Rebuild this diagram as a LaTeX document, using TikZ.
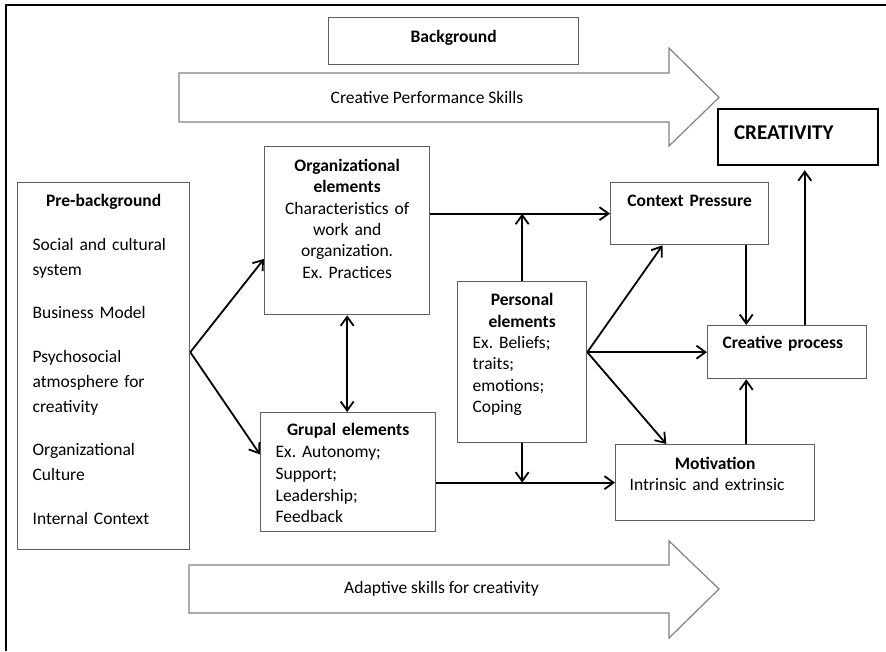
\documentclass[tikz,border=0pt]{standalone}
\usepackage{fontspec}
\setmainfont{Carlito}
\frenchspacing
\usetikzlibrary{arrows.meta, positioning, calc}
\definecolor{BoxGray}{RGB}{95, 95, 95}
\definecolor{ArrowGray}{RGB}{130, 130, 130}

\begin{document}
\begin{tikzpicture}[
    x=1pt, y=-1pt,
    font=\fontsize{17.5}{21.3}\selectfont,
    box/.style={rectangle, draw=BoxGray, line width=1.3pt, anchor=north west, inner ysep=0pt, inner xsep=15pt, align=left},
    headbox/.style={box, draw=black, line width=2.2pt},
    skillarrow/.style={draw=ArrowGray, line width=1.2pt, fill=white},
    frameline/.style={draw=black, line width=2.6pt},
    arrow/.style={-{Straight Barb[length=9pt, width=13pt]}, draw=black, line width=1.8pt},
    twoway/.style={arrow, {Straight Barb[length=9pt, width=13pt]}-{Straight Barb[length=9pt, width=13pt]}}
  ]
    \useasboundingbox (0,0) rectangle (886,651);
    \draw[frameline] (6,651) -- (6,5) -- (886,5);

    % Top band: background and skills arrow
    \node[box, align=center, inner xsep=0pt, text width=250pt, text height=25pt, text depth=22pt] (bg) at (328,17) {\textbf{Background}};
    \draw[skillarrow] (179,73) -- (669,73) -- (669,48) -- (719,97.5) -- (669,146) -- (669,122) -- (179,122) -- cycle;
    \node (perf) at (427,97.5) {Creative Performance Skills};

    % Outcome
    \node[headbox, inner xsep=16pt, text width=128pt, text height=30.5pt, text depth=25.5pt, font=\fontsize{21}{25}\selectfont\bfseries] (creat) at (717,108) {CREATIVITY};

    % Pre-background column
    \node[box, text width=142pt, text height=24pt, text depth=343pt, font=\fontsize{17.5}{25}\selectfont] (pre) at (17,182) {
      \makebox[\linewidth]{\textbf{Pre-background}}\\[19pt]
      Social and cultural\\ system\\[18pt]
      Business Model\\[19pt]
      Psychosocial\\ atmosphere for\\ creativity\\[18pt]
      Organizational\\ Culture\\[19pt]
      Internal Context
    };

    % Elements
    \node[box, align=center, inner xsep=8pt, text width=149pt, text height=25pt, text depth=143pt] (org) at (264,146) {
      \textbf{Organizational}\\ \textbf{elements}\\ Characteristics of\\ work and\\ organization.\\ Ex. Practices
    };
    \node[box, text width=145pt, text height=23pt, text depth=96pt, font=\fontsize{17.5}{21.8}\selectfont] (grup) at (260,412) {
      \makebox[\linewidth]{\textbf{Grupal elements}}\\ Ex. Autonomy;\\ Support;\\ Leadership;\\ Feedback
    };
    \node[box, text width=99pt, text height=24pt, text depth=137pt, font=\fontsize{17.5}{21.4}\selectfont] (pers) at (457,281) {
      \makebox[\linewidth]{\textbf{Personal}}\\ \makebox[\linewidth]{\textbf{elements}}\\ Ex. Beliefs;\\ traits;\\ emotions;\\ Coping
    };

    % Right column
    \node[box, align=center, inner xsep=0pt, text width=158pt, text height=24pt, text depth=38pt] (ctx) at (610,182) {\textbf{Context Pressure}};
    \node[box, text width=129pt, text height=23pt, text depth=30pt] (proc) at (707,325) {\textbf{Creative process}};
    \node[box, inner xsep=14pt, text width=171pt, text height=25pt, text depth=51pt] (mot) at (615,444) {
      \makebox[\linewidth]{\textbf{Motivation}}\\ Intrinsic and extrinsic
    };

    % Bottom skills arrow
    \draw[skillarrow] (189,565) -- (669,565) -- (669,541) -- (719,589) -- (669,638) -- (669,613) -- (189,613) -- cycle;
    \node (adapt) at (441.5,589) {Adaptive skills for creativity};

    % Connections
    \coordinate (prefan) at (pre.east |- proc.west);
    \draw[arrow] (prefan) -- ($(org.north west)!0.667!(org.south west)$);
    \draw[arrow] (prefan) -- ($(grup.north west)!0.353!(grup.south west)$);
    \draw[twoway] (org.south) -- (org.south |- grup.north);

    \draw[arrow] (ctx.west -| org.east) -- (ctx.west);
    \draw[arrow] (pers.north) -- (pers.north |- ctx.west);
    \draw[arrow] (pers.south) -- (pers.south |- mot.west);
    \draw[arrow] (mot.west -| grup.east) -- (mot.west);

    \coordinate (persfan) at (pers.east |- proc.west);
    \draw[arrow] (persfan) -- ($(ctx.south west)!0.33!(ctx.south east)$);
    \draw[arrow] (persfan) -- (proc.west);
    \draw[arrow] (persfan) -- ($(mot.north west)!0.256!(mot.north east)$);

    \coordinate (procin) at ($(proc.north west)!0.245!(proc.north east)$);
    \draw[arrow] (procin |- ctx.south) -- (procin);
    \draw[arrow] (procin |- mot.north) -- (procin |- proc.south);
    \coordinate (procout) at ($(proc.north west)!0.61!(proc.north east)$);
    \draw[arrow, shorten >=4pt] (procout) -- (procout |- creat.south);
\end{tikzpicture}
\end{document}
